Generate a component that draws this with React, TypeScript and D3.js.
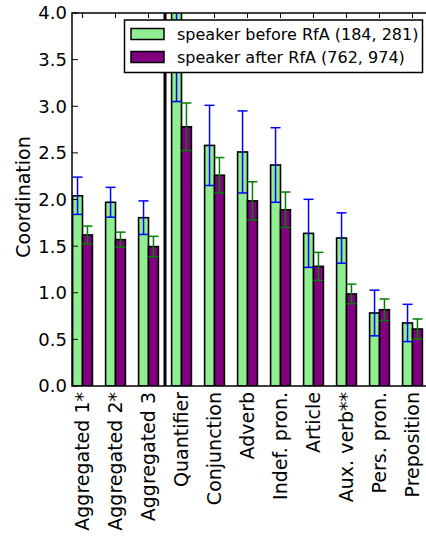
import React from "react";
import * as d3 from "d3";

const categories = [
  "Aggregated 1*", "Aggregated 2*", "Aggregated 3", "Quantifier", "Conjunction",
  "Adverb", "Indef. pron.", "Article", "Aux. verb**", "Pers. pron.", "Preposition",
];
const beforeValues = [2.04, 1.97, 1.805, 4.1, 2.58, 2.51, 2.37, 1.637, 1.587, 0.783, 0.676];
const beforeErrors = [0.2, 0.16, 0.18, 1.05, 0.43, 0.44, 0.4, 0.365, 0.27, 0.245, 0.2];
const afterValues = [1.62, 1.57, 1.495, 2.78, 2.26, 1.985, 1.89, 1.283, 0.987, 0.818, 0.611];
const afterErrors = [0.095, 0.08, 0.11, 0.255, 0.19, 0.205, 0.19, 0.15, 0.105, 0.115, 0.108];
const yTicks = [0, 0.5, 1, 1.5, 2, 2.5, 3, 3.5, 4];
const legendLabels = ["speaker before RfA (184, 281)", "speaker after RfA (762, 974)"];

const W = 426;
const H = 538;
const left = 72;
const right = 440;
const top = 13;
const bottom = 386;
const font = "DejaVu Sans, sans-serif";

export default function App() {
  const x = d3.scaleLinear().domain([0, 10]).range([82.5, 412.5]);
  const y = d3.scaleLinear().domain([0, 4]).range([bottom, top]);
  const bw = x(0.3) - x(0);
  const sepX = (x(2) + x(3)) / 2;
  const cap = 5;

  return (
    <svg width={W} height={H} style={{ position: "absolute", left: 0, top: 0 }} fontFamily={font}>
      <defs>
        <clipPath id="plot">
          <rect x={left} y={top} width={right - left} height={bottom - top} />
        </clipPath>
      </defs>
      <rect x={0} y={0} width={W} height={H} fill="white" />
      <g clipPath="url(#plot)">
        {categories.map((c, i) => (
          <g key={c}>
            <rect x={x(i) - bw} y={y(beforeValues[i])} width={bw} height={y(0) - y(beforeValues[i])}
              fill="#90ee90" stroke="black" strokeWidth={1.6} />
            <rect x={x(i)} y={y(afterValues[i])} width={bw} height={y(0) - y(afterValues[i])}
              fill="#800080" stroke="black" strokeWidth={1.6} />
          </g>
        ))}
        {categories.map((c, i) => {
          const cx1 = x(i) - bw / 2;
          const cx2 = x(i) + bw / 2;
          const b0 = y(beforeValues[i] - beforeErrors[i]);
          const b1 = y(beforeValues[i] + beforeErrors[i]);
          const a0 = y(afterValues[i] - afterErrors[i]);
          const a1 = y(afterValues[i] + afterErrors[i]);
          return (
            <g key={"e" + c}>
              <g stroke="#0000ff" strokeWidth={1.5}>
                <line x1={cx1} x2={cx1} y1={b0} y2={b1} />
                <line x1={cx1 - cap} x2={cx1 + cap} y1={b0} y2={b0} />
                <line x1={cx1 - cap} x2={cx1 + cap} y1={b1} y2={b1} />
              </g>
              <g stroke="#008000" strokeWidth={1.5}>
                <line x1={cx2} x2={cx2} y1={a0} y2={a1} />
                <line x1={cx2 - cap} x2={cx2 + cap} y1={a0} y2={a0} />
                <line x1={cx2 - cap} x2={cx2 + cap} y1={a1} y2={a1} />
              </g>
            </g>
          );
        })}
        <line x1={sepX} x2={sepX} y1={top} y2={bottom} stroke="black" strokeWidth={3} />
      </g>
      {/* ticks */}
      <g stroke="black" strokeWidth={1}>
        {yTicks.map((t) => (
          <line key={"yt" + t} x1={left} x2={left + 6} y1={y(t)} y2={y(t)} />
        ))}
        {categories.map((c, i) => (
          <g key={"xt" + c}>
            <line x1={x(i)} x2={x(i)} y1={top} y2={top + 5} />
            <line x1={x(i)} x2={x(i)} y1={bottom} y2={bottom - 5} />
          </g>
        ))}
      </g>
      {/* spines */}
      <rect x={left} y={top} width={right - left} height={bottom - top} fill="none" stroke="black" strokeWidth={1.5} />
      {/* y tick labels */}
      {yTicks.map((t) => (
        <text key={"yl" + t} x={left - 5} y={y(t)} dy="0.36em" textAnchor="end" fontSize={18}>
          {d3.format(".1f")(t)}
        </text>
      ))}
      {/* x labels */}
      {categories.map((c, i) => (
        <text key={"xl" + c} transform={`translate(${x(i)},${bottom + 6}) rotate(-90)`}
          textAnchor="end" dy="0.36em" fontSize={19}>
          {c}
        </text>
      ))}
      <text transform={`translate(30,197) rotate(-90)`} textAnchor="middle" fontSize={19}>
        Coordination
      </text>
      {/* legend */}
      <g>
        <rect x={124.5} y={20} width={298} height={52.5} fill="white" stroke="black" strokeWidth={1.5} />
        {legendLabels.map((l, i) => (
          <g key={l}>
            <rect x={131} y={28.5 + i * 23} width={33} height={11} fill={i === 0 ? "#90ee90" : "#800080"}
              stroke="black" strokeWidth={1.5} />
            <text x={177} y={34 + i * 23} dy="0.36em" fontSize={16}>{l}</text>
          </g>
        ))}
      </g>
    </svg>
  );
}
